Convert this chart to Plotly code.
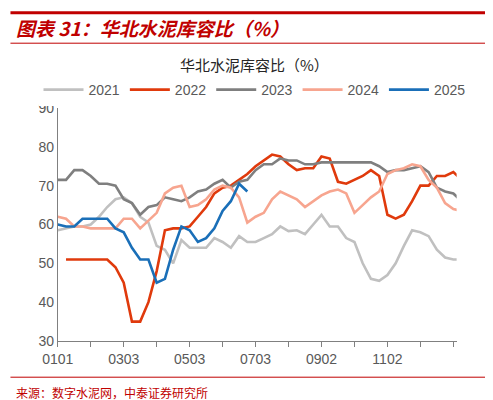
import plotly.graph_objects as go

# weekly samples, x in month units (week i -> i/4)
years = ["2021", "2022", "2023", "2024", "2025"]
v2021 = [58.5, 59, 59.5, 59.5, 60, 62, 64.5, 66.5, 67, 65.5, 62, 60.5, 54.5, 53.5, 50, 56, 54, 54, 54, 56.5,
         55.5, 54, 57, 55.5, 55.5, 56.5, 57.5, 59.5, 58.3, 58.5, 57.5, 60, 62.5, 59.5, 59.5, 56.5, 55.5, 50, 46,
         45.5, 47, 50, 54.5, 58.5, 58, 57, 53.5, 51.5, 51, 51]
v2022 = [None, 51, 51, 51, 51, 51, 51, 49, 45, 35, 35, 40, 48, 58.5, 59, 59, 59.5, 62, 64.5, 68, 69.5, 70,
         71.5, 73, 75, 76.5, 78, 77.5, 75.5, 74, 74.5, 74.5, 77.5, 77, 71, 70.5, 71.5, 72.5, 74, 72.5, 62.5,
         61.5, 62.5, 66, 70, 70, 72.5, 72.5, 73.5, 71.5]
v2023 = [71.5, 71.5, 74, 74, 72.5, 70.5, 70.5, 70, 66.5, 65.5, 62.5, 64.5, 65, 67, 66.5, 66, 67, 68.5, 69, 70.5,
         71.5, 69.5, 71, 71.5, 74, 75.5, 75.5, 77, 76.5, 76.5, 75.5, 75.5, 76, 76, 76, 76, 76, 76, 76, 75, 73.5,
         74, 74, 74.5, 75, 73.5, 69.5, 68.5, 68, 66]
v2024 = [62, 61.5, 59.5, 59.5, 59, 59, 59, 59, 61.5, 61.5, 59, 61, 63, 68, 69.5, 70, 64.5, 65, 66.5, 69, 70,
         69.5, 67, 60.5, 62, 63, 66.5, 68.5, 67.5, 66.5, 64.5, 66, 67.5, 68.5, 69, 68, 63, 65, 67, 68.5, 73, 74,
         74.5, 75.5, 75, 71.5, 69.5, 65.5, 64, 63.5]
v2025 = [60, 59.5, 59.5, 61.5, 61.5, 61.5, 61.5, 59, 58, 54, 51, 51, 45, 46, 53.5, 59.5, 58.5, 55.5, 56.5, 59,
         63.5, 66, 70.5, 68.5]
tick_labels = ["0101", "", "0303", "", "0503", "", "0703", "", "0902", "", "1102", "", ""]

colors = ["#c0c0c0", "#e03a0c", "#7f7f7f", "#f7a58f", "#1a6fb8"]
series = [v2021, v2022, v2023, v2024, v2025]

fig = go.Figure()
for name, vals, c in zip(years, series, colors):
    fig.add_trace(go.Scatter(x=[i / 4 for i in range(len(vals))], y=vals, name=name, mode="lines",
                             line=dict(color=c, width=2.6)))

fig.update_layout(
    width=493, height=400, margin=dict(l=0, r=0, t=0, b=0, autoexpand=False),
    paper_bgcolor="white", plot_bgcolor="white",
    font=dict(family="Liberation Sans, Arial", color="#595959", size=14),
    showlegend=True,
    legend=dict(orientation="h", x=0.5, xanchor="center", y=0.795, yanchor="middle", yref="container",
                font=dict(size=14, color="#595959"), itemwidth=40, tracegroupgap=0),
    xaxis=dict(domain=[0.101, 0.91], range=[0, 12.1], tickvals=list(range(13)), ticktext=tick_labels,
               showgrid=False, zeroline=False, showline=True, linecolor="#808080", linewidth=1,
               ticks="outside", ticklen=5, tickcolor="#808080"),
    yaxis=dict(domain=[0.1675, 0.75], range=[30, 90], dtick=10, showgrid=False, zeroline=False,
               showline=True, linecolor="#808080", linewidth=1, ticks="", anchor="x"),
    shapes=[
        dict(type="line", xref="paper", yref="paper", x0=0.005, x1=0.995, y0=0.988, y1=0.988,
             line=dict(color="#c00000", width=3)),
        dict(type="line", xref="paper", yref="paper", x0=0.005, x1=0.995, y0=0.912, y1=0.912,
             line=dict(color="#c00000", width=1)),
        dict(type="line", xref="paper", yref="paper", x0=0.005, x1=0.995, y0=0.077, y1=0.077,
             line=dict(color="#c00000", width=1)),
    ],
    annotations=[
        dict(text="<b><i>图表 31：华北水泥库容比（%）</i></b>", xref="paper", yref="paper", x=0.012, y=0.952,
             xanchor="left", yanchor="middle", showarrow=False,
             font=dict(family="Noto Sans CJK SC", size=19, color="#c00000")),
        dict(text="华北水泥库容比（%）", xref="paper", yref="paper", x=0.5, y=0.858, xanchor="center",
             yanchor="middle", showarrow=False, font=dict(family="Noto Sans CJK SC", size=15, color="#262626")),
        dict(text="来源：数字水泥网，中泰证券研究所", xref="paper", yref="paper", x=0.012, y=0.04,
             xanchor="left", yanchor="middle", showarrow=False,
             font=dict(family="Noto Sans CJK SC", size=12, color="#c00000")),
    ],
)

fig.write_html("out.html")
